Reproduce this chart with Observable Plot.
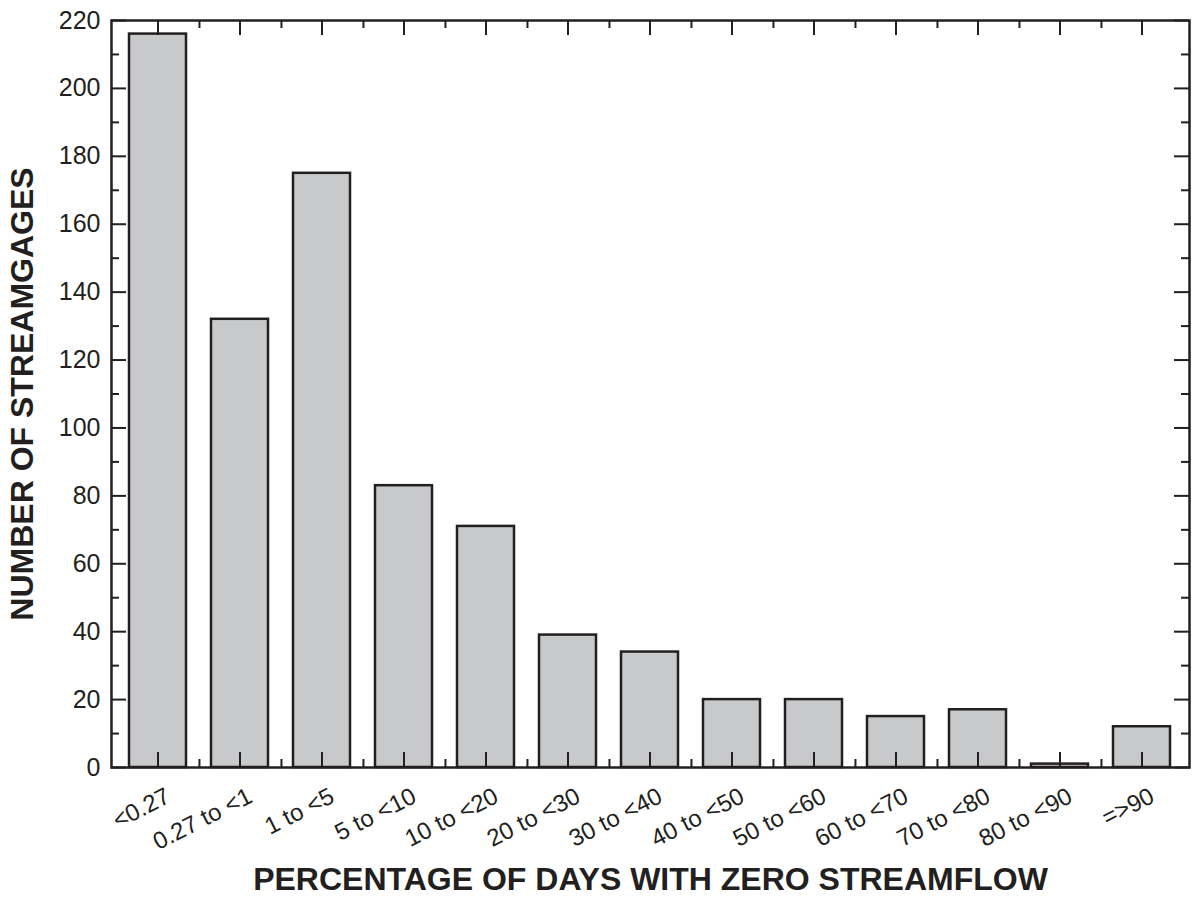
<!DOCTYPE html>
<html>
<head>
<meta charset="utf-8">
<script src="https://cdn.jsdelivr.net/npm/d3@7"></script>
<script src="https://cdn.jsdelivr.net/npm/@observablehq/plot@0.6"></script>
<style>
  html, body { margin: 0; padding: 0; background: #fff; }
  #chart svg { display: block; }
</style>
</head>
<body>
<div id="chart"></div>
<script>
const categories = ["<0.27", "0.27 to <1", "1 to <5", "5 to <10", "10 to <20", "20 to <30", "30 to <40", "40 to <50", "50 to <60", "60 to <70", "70 to <80", "80 to <90", "=>90"];
const counts = [216, 132, 175, 83, 71, 39, 34, 20, 20, 15, 17, 1, 12];
const yMajorTicks = [0, 20, 40, 60, 80, 100, 120, 140, 160, 180, 200, 220];
const yMinorTicks = [10, 30, 50, 70, 90, 110, 130, 150, 170, 190, 210];
const xTitle = "PERCENTAGE OF DAYS WITH ZERO STREAMFLOW";
const yTitle = "NUMBER OF STREAMGAGES";

const data = categories.map((c, i) => ({category: c, count: counts[i]}));

const W = 1193, H = 916;
const mL = 111, mR = 4, mT = 20, mB = 149;
const pw = W - mL - mR, ph = H - mT - mB;
const step = pw / categories.length;
const ink = "#231f20";
const font = "'Liberation Sans', Arial, Helvetica, sans-serif";
const major = 15, minor = 8;

const innerBoundaries = categories.slice(0, -1);

const chart = Plot.plot({
  width: W, height: H,
  marginLeft: mL, marginRight: mR, marginTop: mT, marginBottom: mB,
  style: {fontFamily: font, color: ink, background: "#fff"},
  x: {domain: categories, paddingInner: 0.3, paddingOuter: 0.15, axis: null},
  y: {domain: [0, 220], axis: null},
  marks: [
    Plot.barY(data, {x: "category", y: "count", fill: "#c8c9cb", stroke: ink, strokeWidth: 2.5}),
    // y tick labels
    Plot.axisY(yMajorTicks, {anchor: "left", tickSize: 0, tickPadding: 11, fontSize: 25, fill: ink, label: null}),
    // y ticks left
    Plot.tickY(yMajorTicks, {y: d => d, insetRight: pw - major, stroke: ink, strokeWidth: 2}),
    Plot.tickY(yMinorTicks, {y: d => d, insetRight: pw - minor, stroke: ink, strokeWidth: 2}),
    // y ticks right
    Plot.tickY(yMajorTicks, {y: d => d, insetLeft: pw - major, stroke: ink, strokeWidth: 2}),
    Plot.tickY(yMinorTicks, {y: d => d, insetLeft: pw - minor, stroke: ink, strokeWidth: 2}),
    // x ticks bottom
    Plot.tickX(categories, {x: d => d, insetTop: ph - major, stroke: ink, strokeWidth: 2}),
    Plot.tickX(innerBoundaries, {x: d => d, dx: step / 2, insetTop: ph - minor, stroke: ink, strokeWidth: 2}),
    // x ticks top
    Plot.tickX(categories, {x: d => d, insetBottom: ph - major, stroke: ink, strokeWidth: 2}),
    Plot.tickX(innerBoundaries, {x: d => d, dx: step / 2, insetBottom: ph - minor, stroke: ink, strokeWidth: 2}),
    // frame
    Plot.frame({stroke: ink, strokeWidth: 2.5}),
    // x tick labels
    Plot.text(categories, {x: d => d, frameAnchor: "bottom", rotate: -27, textAnchor: "end", dx: 14, dy: 34, fontSize: 24, fill: ink}),
    // axis titles
    Plot.text([xTitle], {frameAnchor: "bottom", textAnchor: "middle", dy: 122, fontSize: 32, fontWeight: "bold", fill: ink}),
    Plot.text([yTitle], {frameAnchor: "left", textAnchor: "middle", rotate: -90, dx: -89, fontSize: 32, fontWeight: "bold", fill: ink})
  ]
});
document.getElementById("chart").appendChild(chart);
</script>
</body>
</html>
